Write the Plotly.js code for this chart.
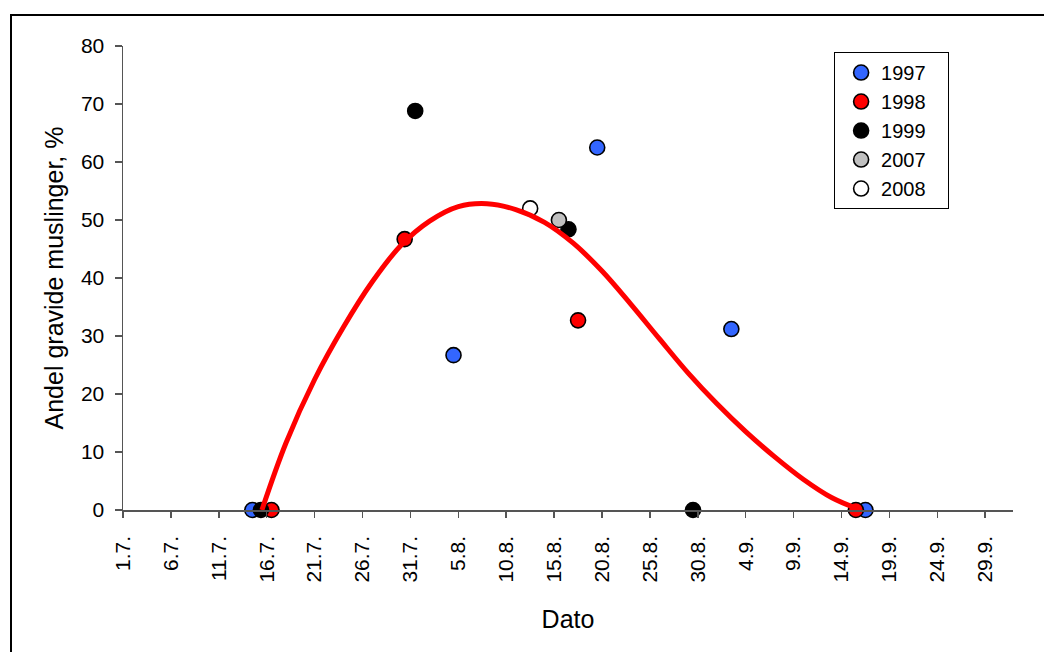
<!DOCTYPE html>
<html>
<head>
<meta charset="utf-8">
<script src="https://cdn.plot.ly/plotly-3.0.1.min.js"></script>
<style>
  html, body { margin: 0; padding: 0; background: #fff; overflow: hidden; }
  #wrap { position: relative; width: 1044px; height: 652px; }
  #chart { position: absolute; left: 0; top: 0; width: 1044px; height: 652px; }
  #frame { position: absolute; left: 10px; top: 14px; width: 1100px; height: 700px;
           border-top: 2px solid #000; border-left: 2px solid #000; pointer-events: none; }
</style>
</head>
<body>
<div id="wrap">
  <div id="chart"></div>
  <div id="frame"></div>
</div>
<script>
// x values: days after 1 July
const tickVals = [0, 5, 10, 15, 20, 25, 30, 35, 40, 45, 50, 55, 60, 65, 70, 75, 80, 85, 90];
const tickLabels = ["1.7.", "6.7.", "11.7.", "16.7.", "21.7.", "26.7.", "31.7.", "5.8.", "10.8.",
  "15.8.", "20.8.", "25.8.", "30.8.", "4.9.", "9.9.", "14.9.", "19.9.", "24.9.", "29.9."];
const yTicks = [0, 10, 20, 30, 40, 50, 60, 70, 80];

const x1997 = [13.5, 34.5, 49.5, 63.5, 77.5];
const y1997 = [0, 26.7, 62.5, 31.2, 0];
const x1998 = [15.5, 29.4, 47.5, 76.5];
const y1998 = [0, 46.7, 32.7, 0];
const x1999 = [14.4, 30.5, 46.5, 59.5];
const y1999 = [0, 68.8, 48.4, 0];
const x2007 = [45.5];
const y2007 = [50.0];
const x2008 = [42.5];
const y2008 = [52.0];

// fitted curve
const xCurve = [14.5, 17, 20, 23, 26, 29, 32, 35, 38, 41, 44, 47, 50, 53, 56, 59, 62, 65, 68, 71, 74, 77];
const yCurve = [0, 11.5, 22.5, 31.5, 39.3, 45.6, 49.8, 52.3, 52.8, 51.8, 49.6, 46.0, 41.2, 35.5, 29.5, 23.6, 18.3, 13.5, 9.2, 5.3, 2.1, 0];

const FONT = "Liberation Sans, Arial, sans-serif";
const PAD = "\u00a0\u00a0\u00a0";

function pts(name, x, y, fill) {
  return {
    type: "scatter", mode: "markers", name: name + PAD, x: x, y: y, cliponaxis: false,
    marker: { size: 15, color: fill, line: { color: "#000", width: 1.6 } }
  };
}

const data = [
  pts("1997", x1997, y1997, "#3366ff"),
  pts("1998", x1998, y1998, "#ff0000"),
  pts("1999", x1999, y1999, "#000000"),
  pts("2007", x2007, y2007, "#c0c0c0"),
  pts("2008", x2008, y2008, "#ffffff"),
  {
    type: "scatter", mode: "lines", x: xCurve, y: yCurve, showlegend: false, cliponaxis: false,
    line: { color: "#ff0000", width: 5, shape: "spline", smoothing: 1 }
  }
];

const layout = {
  width: 1044, height: 652,
  margin: { l: 123, r: 31, t: 46, b: 142 },
  paper_bgcolor: "#fff", plot_bgcolor: "#fff",
  font: { family: FONT, size: 20, color: "#000" },
  showlegend: true,
  legend: {
    x: 0.799, y: 0.987, xanchor: "left", yanchor: "top",
    bordercolor: "#000", borderwidth: 1, bgcolor: "#fff",
    font: { family: FONT, size: 20, color: "#000" },
    indentation: 6
  },
  xaxis: {
    range: [0, 92.9], tickmode: "array", tickvals: tickVals, ticktext: tickLabels,
    tickangle: -90, showgrid: false, zeroline: false,
    showline: true, linecolor: "#555", linewidth: 1.5,
    ticks: "outside", ticklen: 6, tickcolor: "#555", tickwidth: 1.5,
    ticklabelstandoff: 10,
    tickfont: { family: FONT, size: 21, color: "#000" },
    title: { text: "Dato", font: { family: FONT, size: 25, color: "#000" }, standoff: 29 }
  },
  yaxis: {
    range: [0, 80], tickmode: "array", tickvals: yTicks, ticktext: yTicks.map(String),
    showgrid: false, zeroline: false,
    showline: true, linecolor: "#555", linewidth: 1.5,
    ticks: "outside", ticklen: 7, tickcolor: "#555", tickwidth: 1.5,
    ticklabelstandoff: 6,
    tickfont: { family: FONT, size: 21, color: "#000" },
    title: { text: "Andel gravide muslinger, %", font: { family: FONT, size: 25, color: "#000" }, standoff: 10 }
  }
};

Plotly.newPlot("chart", data, layout, { staticPlot: true, displayModeBar: false });
</script>
</body>
</html>
